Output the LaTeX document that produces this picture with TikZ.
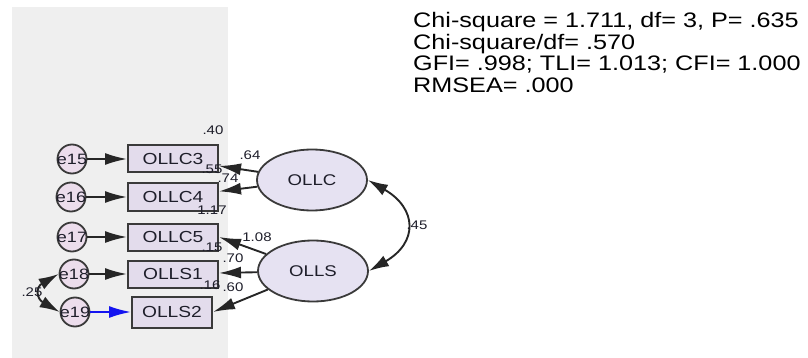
\documentclass[tikz,border=0pt]{standalone}
\usepackage{fontspec}
\setmainfont[FakeStretch=1.2]{Liberation Sans}
\usepackage{xcolor}
\definecolor{panel}{HTML}{EFEFEF}
\definecolor{boxfill}{HTML}{E3DCEC}
\definecolor{latfill}{HTML}{E6E2F2}
\definecolor{errfill}{HTML}{ECDDEC}
\definecolor{edge}{HTML}{3A3A3A}
\definecolor{ink}{HTML}{1E1E2A}
\definecolor{errpath}{HTML}{1414F0}
\usetikzlibrary{arrows.meta, shapes.geometric}

\begin{document}
\begin{tikzpicture}[x=1pt, y=-1pt, every node/.style={text=ink},
  obsbox/.style={draw=edge, line width=2pt, fill=boxfill, minimum width=90pt,
    minimum height=27pt, inner sep=0pt, font=\fontsize{16}{16}\selectfont},
  latent/.style={ellipse, draw=edge, line width=1.8pt, fill=latfill, minimum width=110pt,
    minimum height=61pt, inner sep=0pt, font=\fontsize{15.5}{16}\selectfont},
  errc/.style={circle, draw=edge, line width=1.8pt, fill=errfill, minimum size=29pt,
    inner sep=0pt, font=\fontsize{15}{15}\selectfont},
  est/.style={font=\fontsize{12.5}{13}\selectfont, inner sep=0pt},
  load/.style={draw=black!85, line width=1.9pt, -{Latex[length=22pt, width=12pt]}},
  cov/.style={draw=black!85, line width=1.9pt,
    {Latex[length=20pt, width=12pt]}-{Latex[length=20pt, width=12pt]}}]
  \useasboundingbox (0,0) rectangle (808,358);
  \fill[panel] (12,7) rectangle (228,358);

  % Fit indices
  \node[anchor=north west, align=left, inner sep=0pt, text=black,
    font=\fontsize{21}{21.7}\selectfont] (fitidx) at (413,12)
    {Chi-square = 1.711, df= 3, P= .635\\Chi-square/df= .570\\
     GFI= .998; TLI= 1.013; CFI= 1.000\\RMSEA= .000};

  % Indicators and errors
  \foreach \nm/\y in {OLLC3/159, OLLC4/197, OLLC5/237, OLLS1/274}{
    \node[obsbox] (\nm) at (173,\y) {\nm};
  }
  \node[obsbox, minimum width=80pt, minimum height=31pt] (OLLS2) at (172,312) {OLLS2};
  \foreach \e/\x/\y in {15/72/159, 16/71/197, 17/72/237, 18/74/274, 19/75/312}{
    \node[errc] (e\e) at (\x,\y) {\makebox[0pt]{e\e}};
  }

  % Latent factors
  \node[latent] (OLLC) at (312,180) {OLLC};
  \node[latent] (OLLS) at (313,271) {OLLS};

  % Squared multiple correlations
  \foreach \nm/\v/\x/\y in {rC3/.40/213/130, rC4/.55/212/169, rC5/1.17/212/210,
                            rS1/.15/212/247, rS2/.16/210/285}{
    \node[est] (\nm) at (\x,\y) {\v};
  }

  % Paths
  \foreach \e/\nm in {15/OLLC3, 16/OLLC4, 17/OLLC5, 18/OLLS1}{
    \draw[load] (e\e) -- (\nm);
  }
  \draw[load, draw=errpath] (e19) -- (OLLS2);
  \draw[load] (OLLC) -- (OLLC3);
  \draw[load] (OLLC) -- (OLLC4);
  \draw[load] (OLLS) -- (OLLC5.east);
  \draw[load] (OLLS) -- (OLLS1);
  \draw[load] (OLLS) -- (OLLS2.east);
  \draw[cov] (OLLC.east) to[out=-30, in=30, looseness=1.6] (OLLS.east);
  \draw[cov] (e18.west) to[out=210, in=150, looseness=1.8] (e19.west);

  % Estimates
  \foreach \nm/\v/\x/\y in {lC3/.64/250/155, lC4/.74/228/178, lC5/1.08/257/237,
                            lS1/.70/233/258, lS2/.60/233/287, cvL/.45/417/225,
                            cvE/.25/32/292}{
    \node[est] (\nm) at (\x,\y) {\v};
  }
\end{tikzpicture}
\end{document}
